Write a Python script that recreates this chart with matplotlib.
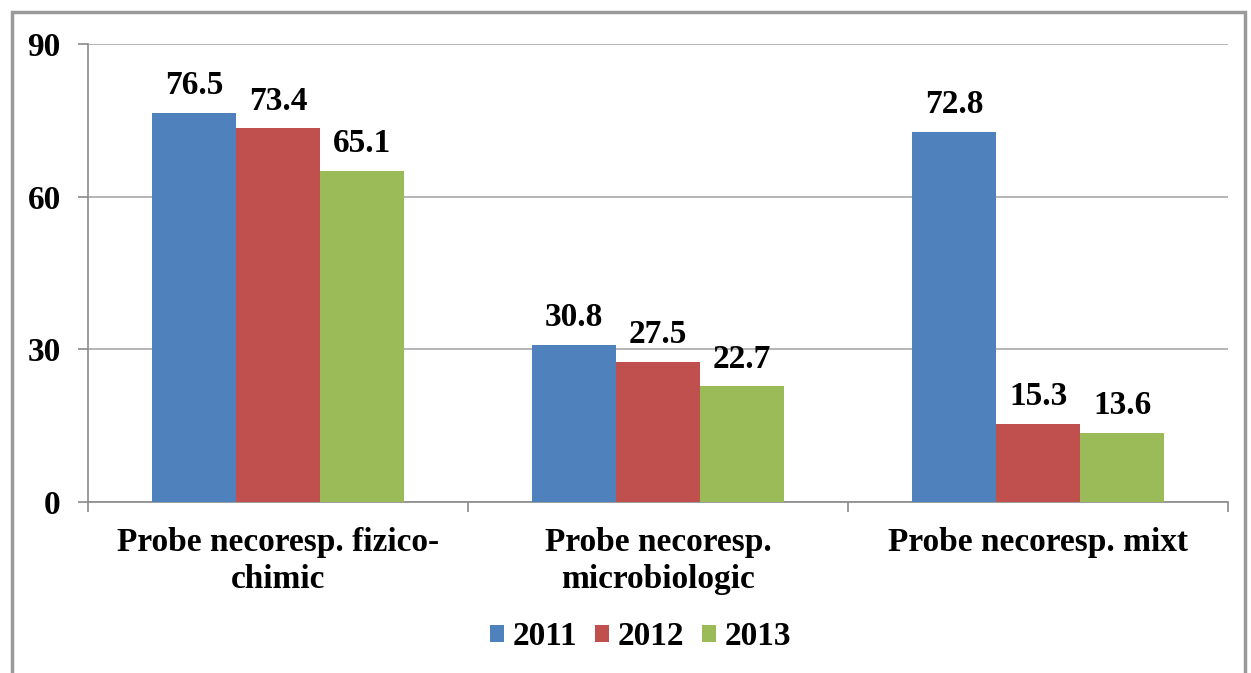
import matplotlib.pyplot as plt
import numpy as np
from matplotlib.patches import Rectangle

categories = ["Probe necoresp. fizico-\nchimic", "Probe necoresp.\nmicrobiologic", "Probe necoresp. mixt"]
years = ["2011", "2012", "2013"]
values_2011 = [76.5, 30.8, 72.8]
values_2012 = [73.4, 27.5, 15.3]
values_2013 = [65.1, 22.7, 13.6]
colors = ["#4F81BD", "#C0504D", "#9BBB59"]

plt.rcParams["font.family"] = ["Liberation Serif", "DejaVu Serif"]
plt.rcParams["font.weight"] = "bold"
FS = 24

fig = plt.figure(figsize=(12.51, 6.73), dpi=100)
ax = fig.add_axes([0.0703, 0.2541, 0.9114, 0.6805])

# outer frame around the chart area
fig.patches.append(Rectangle((12 / 1251, -0.01), 1233 / 1251, 1 - 12 / 673 + 0.01,
                             transform=fig.transFigure, fill=False,
                             edgecolor="#9a9a9a", linewidth=2.5))

x = np.arange(len(categories))
width = 0.221
for i, (year, vals) in enumerate(zip(years, [values_2011, values_2012, values_2013])):
    bars = ax.bar(x + (i - 1) * width, vals, width, color=colors[i], label=year, zorder=3)
    for b, v in zip(bars, vals):
        ax.text(b.get_x() + b.get_width() / 2, v + 3.7, f"{v:.1f}", ha="center", va="baseline",
                fontsize=FS, fontweight="bold")

ax.set_xlim(-0.5, 2.5)
ax.set_ylim(0, 90)
ax.set_yticks([0, 30, 60, 90])
ax.yaxis.grid(True, color="#b0b0b0", linewidth=1.3, zorder=0)
ax.set_axisbelow(True)

ax.set_xticks([-0.5, 0.5, 1.5, 2.5])
ax.set_xticklabels([])
ax.set_xticks(x, minor=True)
ax.set_xticklabels(categories, minor=True, fontsize=FS, fontweight="bold", linespacing=1.25)
ax.tick_params(axis="x", which="minor", length=0, pad=18)
ax.tick_params(axis="x", which="major", length=7, color="#8a8a8a", width=1.2)
ax.tick_params(axis="y", length=7.5, color="#8a8a8a", width=1.2, labelsize=FS, pad=12)

for side in ["top", "right"]:
    ax.spines[side].set_visible(False)
for side in ["left", "bottom"]:
    ax.spines[side].set_color("#8a8a8a")
    ax.spines[side].set_linewidth(1.2)

leg = fig.legend(loc="center", bbox_to_anchor=(0.512, 0.0535), ncol=3, frameon=False,
                 prop={"size": FS, "weight": "bold"}, handlelength=0.42, handleheight=0.42,
                 handletextpad=0.25, columnspacing=0.55)

fig.savefig("out.png", dpi=100)
